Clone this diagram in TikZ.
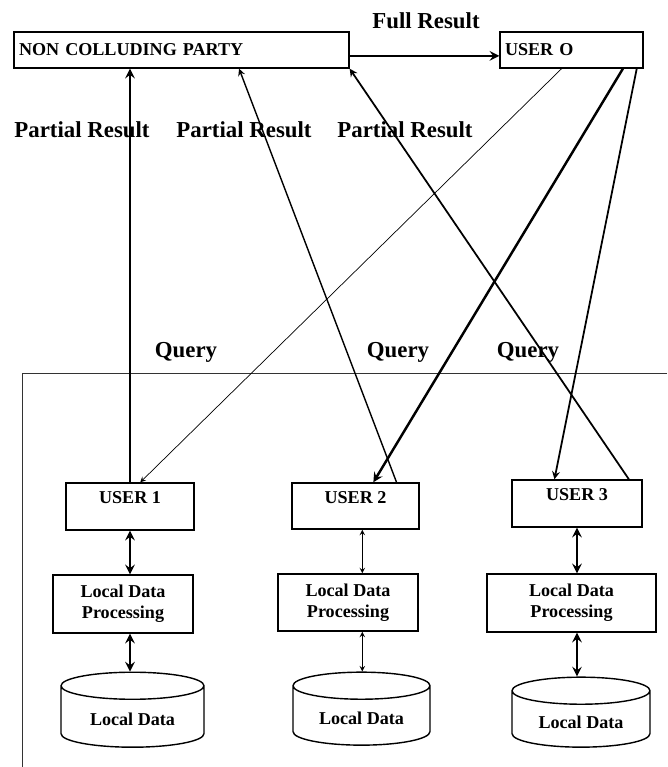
\documentclass[tikz,border=0pt]{standalone}
\usepackage{fontspec}
\setmainfont{Liberation Serif}
\usepackage{tikz}
\usetikzlibrary{arrows, shapes.geometric}

\begin{document}
\begin{tikzpicture}[
            x = 0.02cm, y = -0.02cm, % one unit per pixel of the sketch
            > = stealth, % arrow head style
            font = \bfseries\fontsize{10.3}{12}\selectfont,
            semithick % line style
        ]

        \tikzstyle{box}=[
            draw = black,
            thick,
            fill = white,
            inner sep = 0.1cm
        ]
        \tikzstyle{userbox}=[
            box,
            text height = 7pt,
            text depth = 10pt % text sits in the upper half
        ]
        \tikzstyle{store}=[
            draw = black,
            thick,
            cylinder,
            shape border rotate = 90,
            aspect = 0.28,
            minimum height = 1.5cm
        ]
        \tikzstyle{caption}=[font = \bfseries\fontsize{13}{15}\selectfont]

        \useasboundingbox (0,0) rectangle (667,767);

        % frame round the users
        \draw[thin, black!80] (667,373) -- (22,373) -- (22,767);

        % top row
        \node[box, text width=6.5cm, align=left, minimum height=0.72cm] (ncp) at (181.5,50) {NON COLLUDING PARTY};
        \node[box, text width=2.66cm, align=left, minimum height=0.72cm] (usero) at (571.5,50) {USER O};

        % users
        \node[userbox, minimum width=2.56cm, minimum height=0.94cm] (user1) at (130,506.5) {USER 1};
        \node[userbox, minimum width=2.54cm, minimum height=0.92cm] (user2) at (355.5,506) {USER 2};
        \node[userbox, minimum width=2.6cm, minimum height=0.94cm] (user3) at (577,503.5) {USER 3};

        % local processing
        \node[box, align=center, minimum width=2.8cm, minimum height=1.16cm] (ldp1) at (123,604) {Local Data\\Processing};
        \node[box, align=center, minimum width=2.8cm, minimum height=1.14cm] (ldp2) at (348,602.5) {Local Data\\Processing};
        \node[box, align=center, minimum width=3.38cm, minimum height=1.16cm] (ldp3) at (571.5,603) {Local Data\\Processing};

        % local data
        \node[store, minimum width=2.86cm] (data1) at (132.5,719.5) {Local Data};
        \node[store, minimum width=2.74cm, minimum height=1.46cm] (data2) at (361.5,718.5) {Local Data};
        \node[store, minimum width=2.76cm, minimum height=1.4cm] (data3) at (581,722) {Local Data};

        % labels
        \node[caption] (full) at (426,21) {Full Result};
        \node[caption] (part1) at (82,130) {Partial Result};
        \node[caption] (part2) at (244,130) {Partial Result};
        \node[caption] (part3) at (405,130) {Partial Result};
        \node[caption] (query1) at (186,352) {Query};
        \node[caption] (query2) at (398,352) {Query};
        \node[caption] (query3) at (528,352) {Query};

        % full result
        \draw[->, line width=1.4pt] (ncp.-2) -- (usero.west |- ncp.-2);

        % partial results
        \draw[->, line width=1.4pt] (user1.north) -- (user1.north |- ncp.south);
        \draw[->, thick] (user2.30) -- (ncp.-18);
        \draw[->, line width=1pt] (user3.25) -- (ncp.south east);

        % queries
        \draw[->, thin] (usero.-118) -- (user1.67);
        \draw[->, line width=1.4pt] (usero.-20) -- (user2.53);
        \draw[->, line width=1pt] (usero.-16) -- (user3.133);

        % user columns
        \draw[<->, line width=1.4pt] (user1.south) -- (user1.south |- ldp1.north);
        \draw[<->, line width=1.4pt] (user1.south |- ldp1.south) -- (user1.south |- data1.north);
        \draw[<->, thin] (user2.-74) -- (user2.-74 |- ldp2.north);
        \draw[<->, thin] (user2.-74 |- ldp2.south) -- (user2.-74 |- data2.north);
        \draw[<->, line width=1.4pt] (user3.south) -- (user3.south |- ldp3.north);
        \draw[<->, line width=1.4pt] (user3.south |- ldp3.south) -- (user3.south |- data3.north);

    \end{tikzpicture}
\end{document}
